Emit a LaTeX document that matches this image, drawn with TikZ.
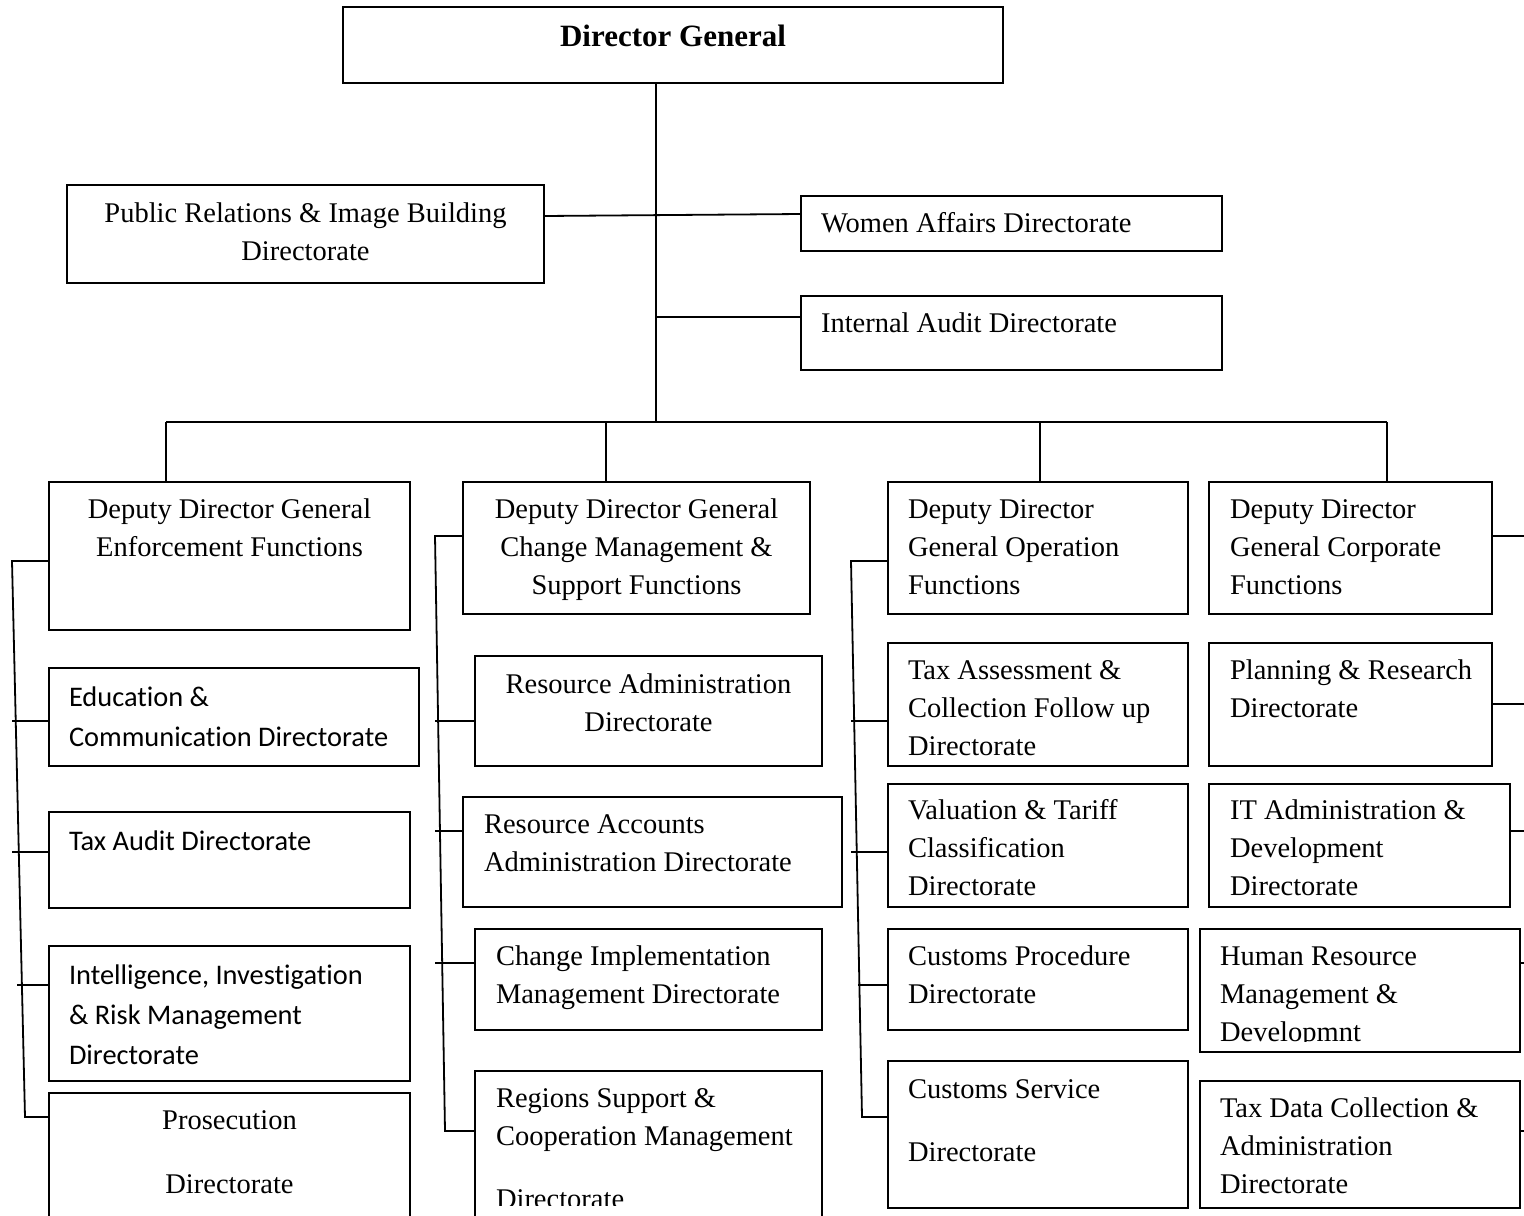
\documentclass[tikz,border=0pt]{standalone}
\usepackage{fontspec}
\setmainfont{Liberation Serif}
\newfontfamily\calib[Ligatures=NoCommon]{Carlito}
\newcommand\atleft[1]{\raggedright\leftskip=\dimexpr #1pt/2\relax\rightskip=-80pt plus 1fil\relax}
\newcommand\atcenter{\centering\leftskip=-80pt plus 1fil\rightskip=-80pt plus 1fil\relax}
% #1 style, #2 name, #3 x1, #4 y1, #5 x2, #6 y2, #7 alignment, #8 first baseline, #9 text
\newcommand\mkbox[9]{%
  \node[obox,#1] (#2) at (#3,#4) {\parbox[t][\dimexpr(#6pt-#4pt)/2\relax][t]{\dimexpr(#5pt-#3pt)/2\relax}{#7\hyphenpenalty=10000 \vspace*{\dimexpr(#8pt-#4pt)/2-\ht\strutbox\relax}\strut #9\par}};%
}
\tikzset{
  obox/.style={draw, line width=1pt, inner sep=0pt, outer sep=0pt, anchor=north west,
    font=\fontsize{14.25}{19}\selectfont},
  cal/.style={font=\calib\fontsize{14.2}{20}\selectfont},
  dgfont/.style={font=\bfseries\fontsize{15.5}{19}\selectfont},
  conn/.style={line width=0.9pt},
  frame/.style={line width=1pt},
}
\begin{document}
\begin{tikzpicture}[x=0.5pt, y=-0.5pt]
\useasboundingbox (0,0) rectangle (1524,1215);
\clip (0,0) rectangle (1524,1215);

% top
\mkbox{dgfont}{DG}{343}{7}{1003}{83}{\atcenter}{46}{Director General}
\mkbox{}{PR}{67}{185}{544}{283}{\atcenter}{222}{Public Relations \& Image Building\\Directorate}
\mkbox{}{WA}{801}{196}{1222}{251}{\atleft{20}}{232}{Women Affairs Directorate}
\mkbox{}{IA}{801}{296}{1222}{370}{\atleft{20}}{332}{Internal Audit Directorate}

% column 1
\mkbox{}{DDGE}{49}{482}{410}{630}{\atcenter}{518}{Deputy Director General\\Enforcement Functions}
\mkbox{cal}{EDU}{49}{668}{419}{766}{\atleft{20}}{706}{Education \&\\Communication Directorate}
\mkbox{cal}{TA}{49}{812}{410}{908}{\atleft{20}}{850}{Tax Audit Directorate}
\mkbox{cal}{INT}{49}{946}{410}{1081}{\atleft{20}}{984}{Intelligence, Investigation\\\& Risk Management\\Directorate}
\mkbox{}{PROS}{49}{1093}{410}{1240}{\atcenter}{1129}{Prosecution\\[13pt]Directorate}

% column 2
\mkbox{}{DDGC}{463}{482}{810}{614}{\atcenter}{518}{Deputy Director General\\Change Management \&\\Support Functions}
\mkbox{}{RAD}{475}{656}{822}{766}{\atcenter}{693}{Resource Administration\\Directorate}
\mkbox{}{RAC}{463}{797}{842}{907}{\atleft{21}}{833}{Resource Accounts\\Administration Directorate}
\mkbox{}{CIM}{475}{929}{822}{1030}{\atleft{21}}{965}{Change Implementation\\Management Directorate}
\begin{scope}
\clip (465,1060) rectangle (830,1205);
\mkbox{}{RSC}{475}{1071}{822}{1240}{\atleft{21}}{1107}{Regions Support \&\\Cooperation Management\\[12.8pt]Directorate}
\end{scope}
\draw[frame] (RSC.south west) |- (RSC.north east) -- (RSC.south east);

% column 3
\mkbox{}{DDGO}{888}{482}{1188}{614}{\atleft{20}}{518}{Deputy Director\\General Operation\\Functions}
\mkbox{}{TAC}{888}{643}{1188}{766}{\atleft{20}}{679}{Tax Assessment \&\\Collection Follow up\\Directorate}
\mkbox{}{VTC}{888}{784}{1188}{907}{\atleft{20}}{819}{Valuation \& Tariff\\Classification\\Directorate}
\mkbox{}{CPD}{888}{929}{1188}{1030}{\atleft{20}}{965}{Customs Procedure\\Directorate}
\mkbox{}{CSD}{888}{1061}{1188}{1208}{\atleft{20}}{1098}{Customs Service\\[12.5pt]Directorate}

% column 4
\mkbox{}{DDGP}{1209}{482}{1492}{614}{\atleft{21}}{518}{Deputy Director\\General Corporate\\Functions}
\mkbox{}{PRD}{1209}{643}{1492}{766}{\atleft{21}}{679}{Planning \& Research\\Directorate}
\mkbox{}{ITD}{1209}{784}{1510}{907}{\atleft{21}}{819}{IT Administration \&\\Development\\Directorate}
\begin{scope}
\clip (1190,920) rectangle (1530,1041);
\mkbox{}{HRD}{1200}{929}{1520}{1052}{\atleft{20}}{965}{Human Resource\\Management \&\\Developmnt}
\end{scope}
\draw[frame] (HRD.north west) rectangle (HRD.south east);
\mkbox{}{TDC}{1200}{1081}{1520}{1208}{\atleft{20}}{1117}{Tax Data Collection \&\\Administration\\Directorate}

% coordinates
\coordinate (spine) at (656,422);
\coordinate (busL) at (166,422);
\coordinate (bus2) at (606,422);
\coordinate (bus3) at (1040,422);
\coordinate (busR) at (1387,422);
\coordinate (c1t) at (12,561);
\coordinate (c1b) at (25,1117);
\coordinate (t11) at (12,721);
\coordinate (t12) at (12,852);
\coordinate (t13) at (17,985);
\coordinate (c2t) at (435,536);
\coordinate (c2b) at (445,1131);
\coordinate (t21) at (435,721);
\coordinate (t22) at (435,831);
\coordinate (t23) at (435,963);
\coordinate (c3t) at (851,561);
\coordinate (c3b) at (862,1117);
\coordinate (t31) at (851,721);
\coordinate (t32) at (851,852);
\coordinate (t33) at (858,985);
\coordinate (r41) at (1530,536);
\coordinate (r42) at (1530,704);
\coordinate (r43) at (1530,831);
\coordinate (r44) at (1530,963);
\coordinate (r45) at (1530,1131);

% top connectors
\draw[conn] (DG.south -| spine) -- (spine);
\draw[conn] (PR.east |- 0,216) -- (WA.west |- 0,214);
\draw[conn] (spine |- 0,317) -- (IA.west |- 0,317);
\draw[conn] (busL) -- (busR);
\draw[conn] (busL) -- (DDGE.north -| busL);
\draw[conn] (bus2) -- (DDGC.north -| bus2);
\draw[conn] (bus3) -- (DDGO.north -| bus3);
\draw[conn] (busR) -- (DDGP.north -| busR);

% column 1 connectors
\draw[conn] (DDGE.west |- c1t) -- (c1t) -- (c1b) -- (PROS.west |- c1b);
\draw[conn] (t11) -- (EDU.west |- t11);
\draw[conn] (t12) -- (TA.west |- t12);
\draw[conn] (t13) -- (INT.west |- t13);

% column 2 connectors
\draw[conn] (DDGC.west |- c2t) -- (c2t) -- (c2b) -- (RSC.west |- c2b);
\draw[conn] (t21) -- (RAD.west |- t21);
\draw[conn] (t22) -- (RAC.west |- t22);
\draw[conn] (t23) -- (CIM.west |- t23);

% column 3 connectors
\draw[conn] (DDGO.west |- c3t) -- (c3t) -- (c3b) -- (CSD.west |- c3b);
\draw[conn] (t31) -- (TAC.west |- t31);
\draw[conn] (t32) -- (VTC.west |- t32);
\draw[conn] (t33) -- (CPD.west |- t33);

% column 4 connectors
\draw[conn] (DDGP.east |- r41) -- (r41);
\draw[conn] (PRD.east |- r42) -- (r42);
\draw[conn] (ITD.east |- r43) -- (r43);
\draw[conn] (HRD.east |- r44) -- (r44);
\draw[conn] (TDC.east |- r45) -- (r45);
\end{tikzpicture}
\end{document}
